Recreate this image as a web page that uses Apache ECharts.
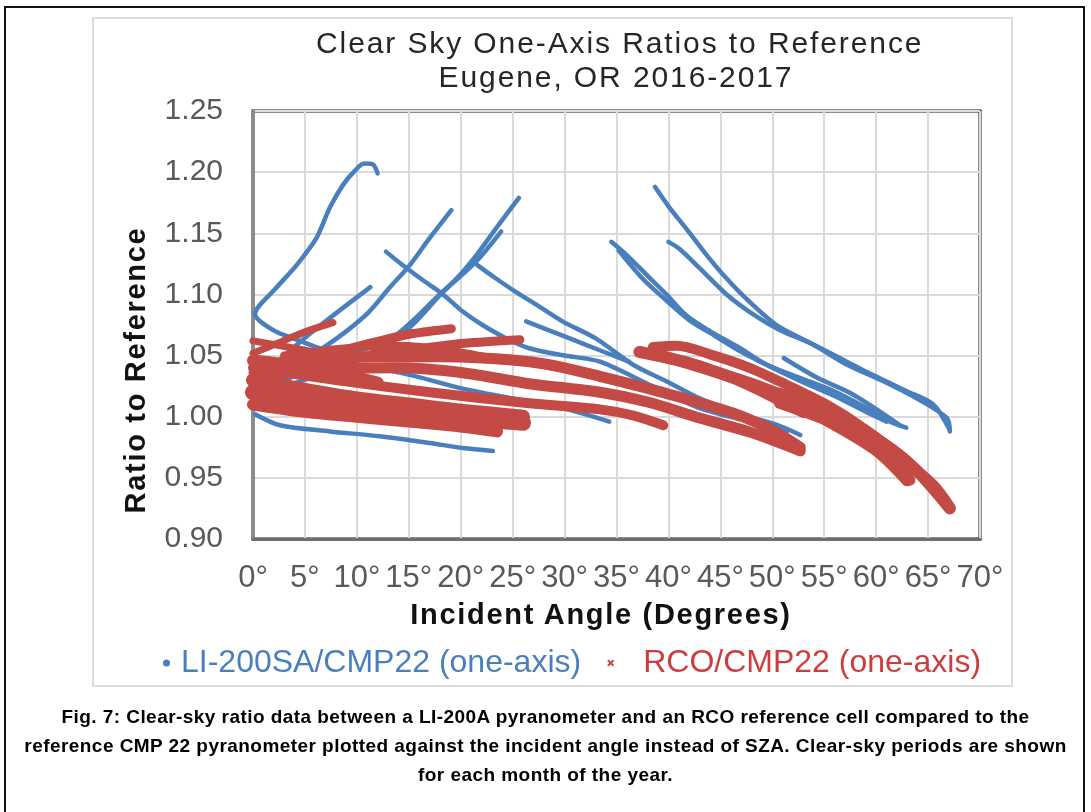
<!DOCTYPE html>
<html>
<head>
<meta charset="utf-8">
<title>Clear Sky One-Axis Ratios to Reference</title>
<script src="https://cdn.jsdelivr.net/npm/echarts@6/dist/echarts.min.js"></script>
<style>
  body { margin: 0; background: #fff; }
  #outer { position: absolute; left: 4px; top: 6px; width: 1077px; height: 830px; border: 2px solid #111; }
  #area { position: absolute; left: 92px; top: 17px; width: 917px; height: 666px; border: 2px solid #dcdcdc; background: #fff; }
  #chart { position: absolute; left: 0; top: 0; width: 1091px; height: 812px; }
  .ttl { position: absolute; left: 316px; width: 600px; text-align: center; white-space: nowrap;
         font: 30px "Liberation Sans", Arial, sans-serif; color: #262626; letter-spacing: 1.9px; line-height: 34px; }
  .axname { position: absolute; width: 500px; text-align: center; white-space: nowrap;
            font: bold 29px "Liberation Sans", Arial, sans-serif; color: #111; letter-spacing: 1.7px; line-height: 32px; }
  .cap { position: absolute; left: 0; width: 1091px; text-align: center; white-space: nowrap;
         font: bold 19px "Liberation Sans", Arial, sans-serif; color: #000; line-height: 29px; letter-spacing: 0.45px; }
</style>
</head>
<body>
<div id="outer"></div>
<div id="area"></div>
<div id="chart"></div>
<div class="ttl" style="top:26px">Clear Sky One-Axis Ratios to Reference</div>
<div class="ttl" style="top:60px">Eugene, OR 2016-2017</div>
<div class="axname" style="left:351px;top:598px">Incident Angle (Degrees)</div>
<div class="axname" style="left:-115px;top:354px;transform:rotate(-90deg)">Ratio to Reference</div>
<div class="cap" style="top:702px">Fig. 7: Clear-sky ratio data between a LI-200A pyranometer and an RCO reference cell compared to the</div>
<div class="cap" style="top:731px">reference CMP 22 pyranometer plotted against the incident angle instead of SZA. Clear-sky periods are shown</div>
<div class="cap" style="top:760px">for each month of the year.</div>
<script>
  // axis setup
  const angleMin = 0, angleMax = 70, angleStep = 5;
  const ratioMin = 0.90, ratioMax = 1.25, ratioStep = 0.05;

  const LI_NAME = 'LI-200SA/CMP22 (one-axis)';
  const RCO_NAME = 'RCO/CMP22 (one-axis)';

  // LI-200SA / CMP22 tracks, [incident angle (deg), ratio]
  const li01 = [[12.0, 1.199], [11.5, 1.2065], [10.7, 1.207], [9.8, 1.201], [8.7, 1.190], [7.4, 1.171], [6.1, 1.146],
                [4.2, 1.124], [2.2, 1.105], [0.2, 1.084], [1.9, 1.071], [4.2, 1.063], [6.4, 1.056], [8.3, 1.051]];
  const li02 = [[0.6, 1.032], [5.8, 1.070], [11.3, 1.106]];
  const li03 = [[1.6, 1.032], [4.2, 1.0425], [6.7, 1.056], [9.0, 1.070], [11.2, 1.086], [13.1, 1.105], [15.1, 1.124],
                [17.0, 1.146], [19.1, 1.169]];
  const li04 = [[1.0, 1.025], [5, 1.036], [9, 1.050], [11.9, 1.059], [13.8, 1.067], [15.7, 1.081], [17.6, 1.097],
                [19.6, 1.113], [21.5, 1.132], [23.4, 1.154], [25.6, 1.179]];
  const li05 = [[1.0, 1.020], [6, 1.033], [10, 1.047], [13.5, 1.062], [15.7, 1.078], [18.3, 1.102], [21.5, 1.127], [23.9, 1.1515]];
  const li06 = [[12.8, 1.135], [14.4, 1.124], [16.3, 1.112], [18.3, 1.100], [20.2, 1.086], [22.1, 1.075], [24.4, 1.064],
                [26.6, 1.056], [30, 1.050], [33.4, 1.045], [38.2, 1.026], [43.0, 1.007], [47.8, 0.996], [51.4, 0.988]];
  const li07 = [[21.6, 1.124], [23.4, 1.113], [25.3, 1.102], [27.2, 1.092], [29.8, 1.078], [33.0, 1.064], [36.6, 1.0425],
                [39.8, 1.029], [43.0, 1.015], [46.9, 1.002], [50.4, 0.9935], [52.7, 0.985]];
  const li08 = [[0.2, 1.002], [2.6, 0.993], [7.4, 0.988], [12.2, 0.984], [17.0, 0.9785], [20.2, 0.9744], [23.1, 0.972]];
  const li09 = [[12, 1.040], [15.7, 1.033], [20.2, 1.023], [25, 1.015], [29.8, 1.007], [34.3, 0.996]];
  const li10 = [[38.7, 1.188], [40.1, 1.171], [41.7, 1.154], [43.7, 1.132], [45.6, 1.113], [47.8, 1.094], [50.4, 1.075],
                [53.3, 1.062], [56.5, 1.048], [59.7, 1.034], [62.9, 1.021], [65.5, 1.010], [67.1, 0.989]];
  const li11 = [[40.0, 1.143], [41.1, 1.137], [43.0, 1.1215], [45.6, 1.100], [48.2, 1.0835], [50.7, 1.071], [53.9, 1.059],
                [57.2, 1.0425], [60.7, 1.029], [63.9, 1.015], [66.8, 0.999], [67.1, 0.988]];
  const li12 = [[34.5, 1.143], [36.0, 1.132], [37.9, 1.116], [39.8, 1.100], [41.7, 1.083], [44.0, 1.070], [46.9, 1.056],
                [49.5, 1.0425], [52.7, 1.0316], [55.9, 1.021], [59.1, 1.007], [61.3, 0.996], [62.9, 0.991]];
  const li13 = [[35.2, 1.136], [37.5, 1.113], [39.8, 1.095], [42, 1.079], [44.5, 1.066], [47, 1.053], [50, 1.040],
                [53, 1.028], [56, 1.017], [59, 1.004], [61, 0.996]];
  const li14 = [[51.1, 1.048], [54.3, 1.032], [57.8, 1.018], [62.3, 0.993]];
  const li15 = [[26.3, 1.078], [29, 1.069], [32, 1.059], [36.2, 1.045]];

  // RCO / CMP22 tracks
  const rco01 = [[0, 1.052], [2.6, 1.061], [5.2, 1.070], [7.7, 1.077]];
  const rco02 = [[0, 1.062], [4, 1.056], [8.3, 1.049]];
  const rco03 = [[0, 1.036], [4, 1.045], [8, 1.053], [12.2, 1.062], [15.4, 1.068], [19.1, 1.072]];
  const rco04 = [[0, 1.028], [3.5, 1.036], [7.4, 1.044], [11, 1.050], [15.4, 1.055], [20.3, 1.060], [25.7, 1.063]];
  const rco05 = [[3, 1.050], [9, 1.056], [14, 1.058], [19, 1.054], [24, 1.046]];
  const rco06 = [[6, 1.046], [12, 1.049], [18, 1.049], [22, 1.048], [26.6, 1.045], [30, 1.040], [33.4, 1.033],
                 [39.8, 1.019], [46.2, 1.003], [50, 0.989], [52.7, 0.975]];
  const rco07 = [[2, 1.036], [8, 1.039], [14, 1.040], [20.2, 1.036], [26.6, 1.027], [33.4, 1.020], [38, 1.012],
                 [43, 0.999], [48, 0.987], [52.7, 0.972]];
  const rco08 = [[0, 1.040], [8, 1.030], [17, 1.020], [26.6, 1.011], [33.4, 1.006], [36.6, 1.001], [39.5, 0.993]];
  const rco09 = [[0, 1.030], [5, 1.022], [10, 1.015], [15, 1.010], [20, 1.005], [26, 1.000]];
  const rco10 = [[0, 1.020], [5, 1.013], [10, 1.007], [15, 1.002], [20, 0.999], [26, 0.995]];
  const rco11 = [[0, 1.010], [5, 1.004], [10, 1.000], [15, 0.996], [20, 0.992], [23.5, 0.988]];
  const rco12 = [[38.5, 1.057], [40.8, 1.058], [44, 1.051], [47.8, 1.040], [51.4, 1.026], [55.2, 1.010], [58.4, 0.993],
                 [61.6, 0.972], [63.3, 0.948]];
  const rco13 = [[37.2, 1.053], [41.4, 1.045], [46.2, 1.032], [50.7, 1.018], [55.9, 0.994], [60.1, 0.972], [63, 0.948]];
  const rco14 = [[50.7, 1.019], [55.9, 1.000], [60.7, 0.978], [63.9, 0.956], [67.1, 0.925]];
  const rco15 = [[50.7, 1.011], [55, 0.998], [59.1, 0.983], [62.5, 0.965], [65.5, 0.944], [67.1, 0.926]];
  const rco16 = [[0, 1.046], [3, 1.043], [6, 1.040], [9, 1.034], [12, 1.028]];
  const rco17 = [[39.5, 1.050], [43, 1.042], [46.5, 1.030], [50, 1.016], [53, 1.003]];

  const liTracks = [li01, li02, li03, li04, li05, li06, li07, li08, li09, li10, li11, li12, li13, li14, li15];
  const rcoTracks = [rco01, rco02, rco03, rco04, rco05, rco06, rco07, rco08, rco09, rco10, rco11, rco12, rco13, rco14, rco15, rco16, rco17];
  // stroke widths of the red point bands (style only)
  const rcoWidths = [7, 7, 9, 9, 8, 11, 11, 10, 14, 16, 12, 10, 12, 12, 11, 12, 10];

  const BLUE = '#4a7fbd';
  const RED = '#c44a45';
  const FONT = '"Liberation Sans", Arial, sans-serif';

  const chart = echarts.init(document.getElementById('chart'));

  const series = [];
  liTracks.forEach(function (d) {
    series.push({
      name: LI_NAME, type: 'line', data: d, showSymbol: false, smooth: 0.3, z: 2,
      itemStyle: { color: BLUE },
      lineStyle: { color: BLUE, width: 4.5, cap: 'round', join: 'round' }
    });
  });
  rcoTracks.forEach(function (d, i) {
    series.push({
      name: RCO_NAME, type: 'line', data: d, showSymbol: false, smooth: 0.3, z: 3,
      itemStyle: { color: RED },
      lineStyle: { color: RED, width: rcoWidths[i], cap: 'round', join: 'round' }
    });
  });

  chart.setOption({
    animation: false,
    legend: {
      left: 158,
      top: 642,
      itemWidth: 7,
      itemHeight: 7,
      itemGap: 26,
      textStyle: { fontFamily: FONT, fontSize: 32 },
      data: [
        { name: LI_NAME, icon: 'circle', itemStyle: { color: BLUE }, textStyle: { color: BLUE, padding: [0, 0, 0, 6] } },
        { name: RCO_NAME, icon: 'path://M2,0L5,3L8,0L10,2L7,5L10,8L8,10L5,7L2,10L0,8L3,5L0,2Z',
          itemStyle: { color: RED }, textStyle: { color: '#d03c3c', padding: [0, 0, 0, 24] } }
      ]
    },
    grid: {
      left: 253, right: 111, top: 111, bottom: 273,
      show: true, backgroundColor: '#fff', borderColor: '#1a1a1a', borderWidth: 3
    },
    xAxis: {
      type: 'value', min: angleMin, max: angleMax, interval: angleStep,
      axisLine: { lineStyle: { color: '#6e6e6e', width: 3 } },
      axisTick: { show: false },
      axisLabel: { fontFamily: FONT, fontSize: 31, color: '#595959', margin: 24, formatter: function (v) { return v + '°'; } },
      splitLine: { lineStyle: { color: '#dadada', width: 2 } }
    },
    yAxis: {
      type: 'value', min: ratioMin, max: ratioMax, interval: ratioStep,
      axisLine: { show: true, lineStyle: { color: '#8c8c8c', width: 3 } },
      axisTick: { show: false },
      axisLabel: { fontFamily: FONT, fontSize: 30, color: '#595959', margin: 30, formatter: function (v) { return v.toFixed(2); } },
      splitLine: { lineStyle: { color: '#dadada', width: 2 } }
    },
    series: series
  });
</script>
</body>
</html>
